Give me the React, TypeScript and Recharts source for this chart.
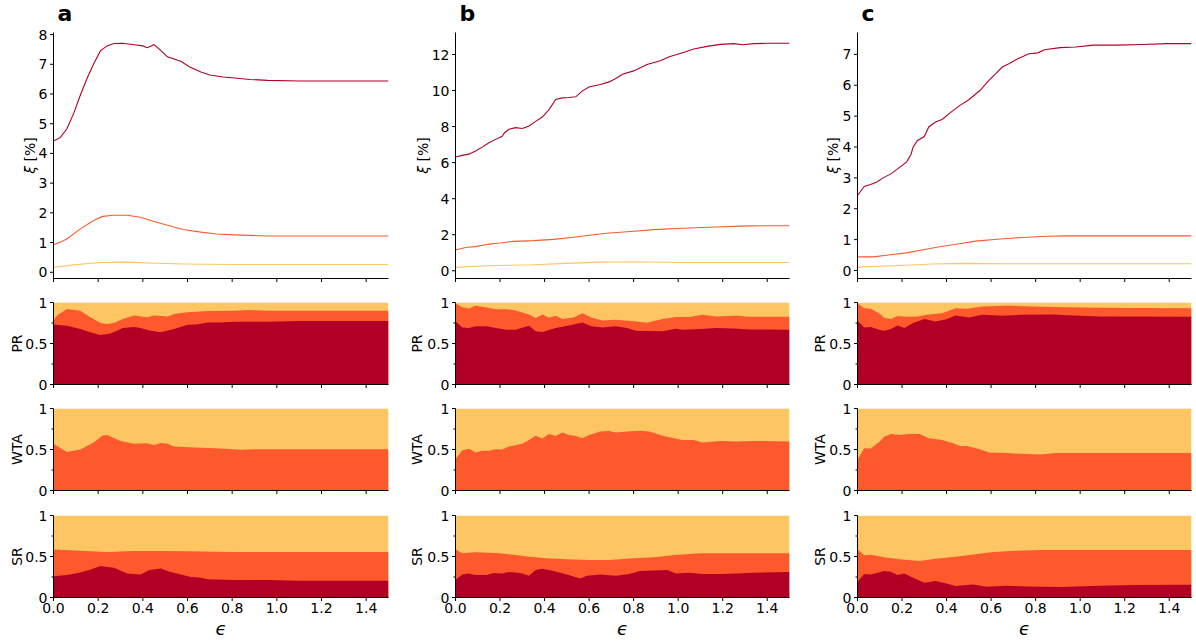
import React from "react";
import { ComposedChart, Line, Area, XAxis, YAxis } from "recharts";

// colours of the three groups (YlOrRd-like)
const DARK = "#b10026";
const MID = "#fc5a2d";
const LIGHT = "#fec662";
const FONT = "'DejaVu Sans', 'Liberation Sans', sans-serif";

const EPS_TICKS = [0, 0.2, 0.4, 0.6, 0.8, 1.0, 1.2, 1.4];
const SHARE_TICKS = [0, 0.25, 0.5, 0.75, 1];
const SHARE_MINOR = [0.25, 0.75];

// ---------- column a ----------
const XI_HI_A_X = [0, 0.03, 0.06, 0.09, 0.12, 0.15, 0.18, 0.21, 0.24, 0.27, 0.31, 0.36, 0.4, 0.42, 0.45, 0.48, 0.51, 0.57, 0.61, 0.66, 0.7, 0.76, 0.81, 0.88, 0.96, 1.1, 1.25, 1.5];
const XI_HI_A = [4.42, 4.53, 4.83, 5.34, 5.96, 6.52, 7.02, 7.45, 7.62, 7.7, 7.71, 7.66, 7.62, 7.56, 7.66, 7.47, 7.25, 7.1, 6.91, 6.74, 6.64, 6.57, 6.54, 6.49, 6.46, 6.44, 6.44, 6.44];
const XI_MID_A_X = [0, 0.03, 0.06, 0.12, 0.18, 0.22, 0.27, 0.33, 0.39, 0.45, 0.51, 0.58, 0.66, 0.73, 0.81, 0.96, 1.5];
const XI_MID_A = [0.93, 1.01, 1.12, 1.46, 1.74, 1.88, 1.92, 1.92, 1.85, 1.71, 1.58, 1.44, 1.35, 1.29, 1.26, 1.22, 1.22];
const XI_LO_A_X = [0, 0.09, 0.21, 0.33, 0.43, 0.58, 0.81, 1.5];
const XI_LO_A = [0.17, 0.25, 0.33, 0.34, 0.31, 0.28, 0.26, 0.26];

const PR_DARK_A_X = [0, 0.06, 0.12, 0.16, 0.21, 0.25, 0.28, 0.31, 0.36, 0.39, 0.43, 0.48, 0.54, 0.6, 0.64, 0.69, 0.75, 0.81, 0.96, 1.1, 1.5];
const PR_DARK_A = [0.733, 0.717, 0.676, 0.64, 0.603, 0.62, 0.65, 0.69, 0.7, 0.69, 0.66, 0.636, 0.676, 0.729, 0.733, 0.757, 0.757, 0.765, 0.765, 0.773, 0.773];
const PR_MID_A_X = [0, 0.02, 0.06, 0.12, 0.16, 0.21, 0.24, 0.27, 0.31, 0.36, 0.42, 0.45, 0.51, 0.54, 0.6, 0.69, 0.81, 0.87, 0.96, 1.5];
const PR_MID_A = [0.79, 0.85, 0.92, 0.9, 0.83, 0.75, 0.737, 0.75, 0.8, 0.84, 0.82, 0.84, 0.83, 0.86, 0.88, 0.895, 0.9, 0.91, 0.9, 0.9];
const WTA_MID_A_X = [0, 0.06, 0.12, 0.18, 0.22, 0.24, 0.3, 0.36, 0.42, 0.45, 0.48, 0.51, 0.54, 0.63, 0.73, 0.84, 0.9, 1.5];
const WTA_MID_A = [0.57, 0.47, 0.5, 0.585, 0.67, 0.677, 0.605, 0.57, 0.577, 0.556, 0.58, 0.57, 0.536, 0.524, 0.516, 0.496, 0.504, 0.504];
const SR_DARK_A_X = [0, 0.06, 0.12, 0.16, 0.21, 0.27, 0.33, 0.39, 0.43, 0.48, 0.52, 0.58, 0.61, 0.66, 0.69, 0.81, 0.96, 1.1, 1.5];
const SR_DARK_A = [0.26, 0.273, 0.306, 0.335, 0.384, 0.363, 0.294, 0.282, 0.335, 0.355, 0.314, 0.273, 0.253, 0.24, 0.224, 0.212, 0.212, 0.204, 0.204];
const SR_MID_A_X = [0, 0.12, 0.24, 0.36, 0.48, 0.6, 0.81, 1.5];
const SR_MID_A = [0.584, 0.571, 0.555, 0.567, 0.567, 0.563, 0.555, 0.555];

// ---------- column b ----------
const XI_HI_B_X = [0, 0.03, 0.06, 0.09, 0.12, 0.15, 0.18, 0.21, 0.22, 0.24, 0.27, 0.3, 0.33, 0.36, 0.39, 0.42, 0.45, 0.48, 0.51, 0.54, 0.57, 0.6, 0.65, 0.69, 0.72, 0.75, 0.8, 0.83, 0.86, 0.92, 0.96, 1.02, 1.07, 1.13, 1.19, 1.25, 1.29, 1.34, 1.4, 1.5];
const XI_HI_B = [6.31, 6.4, 6.47, 6.64, 6.86, 7.1, 7.29, 7.46, 7.66, 7.85, 7.94, 7.89, 8.03, 8.29, 8.53, 8.94, 9.5, 9.59, 9.61, 9.65, 9.98, 10.2, 10.33, 10.48, 10.67, 10.9, 11.09, 11.26, 11.45, 11.65, 11.87, 12.1, 12.3, 12.45, 12.56, 12.6, 12.54, 12.6, 12.62, 12.62];
const XI_MID_B_X = [0, 0.05, 0.09, 0.15, 0.2, 0.26, 0.35, 0.44, 0.53, 0.6, 0.68, 0.8, 0.89, 1.02, 1.17, 1.32, 1.5];
const XI_MID_B = [1.15, 1.3, 1.34, 1.48, 1.54, 1.63, 1.67, 1.74, 1.86, 1.97, 2.08, 2.19, 2.28, 2.36, 2.43, 2.49, 2.5];
const XI_LO_B_X = [0, 0.14, 0.35, 0.5, 0.65, 0.8, 1.02, 1.5];
const XI_LO_B = [0.19, 0.28, 0.33, 0.41, 0.48, 0.5, 0.46, 0.46];

const PR_DARK_B_X = [0, 0.03, 0.06, 0.09, 0.14, 0.18, 0.23, 0.27, 0.33, 0.36, 0.39, 0.45, 0.51, 0.57, 0.61, 0.66, 0.72, 0.77, 0.81, 0.87, 0.93, 0.99, 1.02, 1.1, 1.17, 1.25, 1.32, 1.5];
const PR_DARK_B = [0.77, 0.696, 0.688, 0.709, 0.709, 0.688, 0.668, 0.668, 0.717, 0.648, 0.64, 0.688, 0.72, 0.757, 0.709, 0.696, 0.709, 0.688, 0.656, 0.652, 0.648, 0.68, 0.668, 0.676, 0.688, 0.684, 0.672, 0.668];
const PR_MID_B_X = [0, 0.03, 0.06, 0.09, 0.14, 0.18, 0.23, 0.27, 0.33, 0.36, 0.39, 0.42, 0.45, 0.48, 0.53, 0.57, 0.61, 0.66, 0.72, 0.8, 0.86, 0.93, 0.99, 1.05, 1.11, 1.17, 1.26, 1.32, 1.5];
const PR_MID_B = [0.99, 0.943, 0.927, 0.96, 0.94, 0.919, 0.919, 0.903, 0.854, 0.81, 0.854, 0.814, 0.838, 0.8, 0.818, 0.87, 0.818, 0.781, 0.79, 0.77, 0.753, 0.798, 0.822, 0.822, 0.85, 0.83, 0.838, 0.826, 0.826];
const WTA_MID_B_X = [0, 0.03, 0.06, 0.09, 0.12, 0.15, 0.18, 0.21, 0.24, 0.3, 0.33, 0.36, 0.39, 0.42, 0.45, 0.48, 0.51, 0.54, 0.57, 0.6, 0.65, 0.69, 0.72, 0.77, 0.83, 0.87, 0.93, 0.98, 1.02, 1.07, 1.11, 1.19, 1.26, 1.34, 1.5];
const WTA_MID_B = [0.383, 0.488, 0.508, 0.464, 0.484, 0.484, 0.504, 0.5, 0.536, 0.569, 0.617, 0.669, 0.633, 0.69, 0.665, 0.706, 0.677, 0.665, 0.637, 0.677, 0.718, 0.726, 0.706, 0.718, 0.73, 0.718, 0.669, 0.637, 0.617, 0.617, 0.585, 0.605, 0.597, 0.605, 0.597];
const SR_DARK_B_X = [0, 0.03, 0.06, 0.09, 0.14, 0.17, 0.21, 0.24, 0.27, 0.3, 0.33, 0.36, 0.39, 0.44, 0.5, 0.56, 0.59, 0.65, 0.72, 0.78, 0.83, 0.89, 0.95, 0.99, 1.05, 1.11, 1.19, 1.26, 1.34, 1.5];
const SR_DARK_B = [0.212, 0.282, 0.294, 0.273, 0.273, 0.298, 0.294, 0.31, 0.306, 0.294, 0.265, 0.335, 0.351, 0.322, 0.282, 0.233, 0.265, 0.282, 0.265, 0.286, 0.322, 0.33, 0.335, 0.294, 0.302, 0.286, 0.286, 0.294, 0.302, 0.31];
const SR_MID_B_X = [0, 0.03, 0.09, 0.2, 0.27, 0.33, 0.41, 0.5, 0.6, 0.69, 0.8, 0.89, 0.99, 1.1, 1.25, 1.5];
const SR_MID_B = [0.588, 0.539, 0.551, 0.539, 0.518, 0.498, 0.478, 0.465, 0.457, 0.457, 0.478, 0.49, 0.518, 0.539, 0.539, 0.539];

// ---------- column c ----------
const XI_HI_C_X = [0, 0.03, 0.055, 0.085, 0.115, 0.15, 0.19, 0.22, 0.24, 0.25, 0.27, 0.3, 0.32, 0.35, 0.38, 0.42, 0.46, 0.5, 0.55, 0.59, 0.62, 0.65, 0.68, 0.72, 0.77, 0.81, 0.84, 0.91, 0.98, 1.06, 1.16, 1.28, 1.39, 1.5];
const XI_HI_C = [2.43, 2.72, 2.78, 2.86, 3.0, 3.13, 3.35, 3.51, 3.76, 4.0, 4.21, 4.34, 4.65, 4.81, 4.89, 5.13, 5.35, 5.53, 5.83, 6.16, 6.37, 6.59, 6.7, 6.86, 7.02, 7.05, 7.15, 7.22, 7.24, 7.3, 7.3, 7.32, 7.35, 7.35];
const XI_MID_C_X = [0, 0.07, 0.15, 0.22, 0.3, 0.37, 0.45, 0.53, 0.64, 0.74, 0.85, 0.94, 1.5];
const XI_MID_C = [0.44, 0.44, 0.51, 0.57, 0.68, 0.77, 0.86, 0.95, 1.02, 1.07, 1.11, 1.12, 1.12];
const XI_LO_C_X = [0, 0.19, 0.34, 0.49, 0.64, 1.5];
const XI_LO_C = [0.11, 0.16, 0.21, 0.23, 0.22, 0.22];

const PR_DARK_C_X = [0, 0.03, 0.06, 0.1, 0.12, 0.15, 0.18, 0.21, 0.25, 0.3, 0.35, 0.4, 0.44, 0.5, 0.56, 0.65, 0.73, 0.88, 0.94, 1.09, 1.5];
const PR_DARK_C = [0.78, 0.696, 0.7, 0.664, 0.656, 0.676, 0.72, 0.688, 0.749, 0.8, 0.769, 0.797, 0.842, 0.818, 0.85, 0.838, 0.85, 0.854, 0.846, 0.83, 0.826];
const PR_MID_C_X = [0, 0.03, 0.06, 0.1, 0.12, 0.15, 0.18, 0.22, 0.27, 0.31, 0.38, 0.44, 0.49, 0.56, 0.67, 0.79, 0.94, 1.09, 1.5];
const PR_MID_C = [0.99, 0.93, 0.924, 0.862, 0.814, 0.8, 0.834, 0.826, 0.83, 0.85, 0.87, 0.93, 0.923, 0.951, 0.96, 0.951, 0.943, 0.935, 0.93];
const WTA_MID_C_X = [0, 0.03, 0.06, 0.1, 0.12, 0.15, 0.19, 0.23, 0.28, 0.32, 0.38, 0.43, 0.46, 0.49, 0.55, 0.59, 0.67, 0.73, 0.82, 0.89, 1.01, 1.5];
const WTA_MID_C = [0.375, 0.516, 0.512, 0.597, 0.657, 0.69, 0.677, 0.69, 0.69, 0.637, 0.617, 0.577, 0.544, 0.544, 0.504, 0.464, 0.456, 0.448, 0.44, 0.456, 0.456, 0.456];
const SR_DARK_C_X = [0, 0.03, 0.06, 0.12, 0.15, 0.18, 0.21, 0.25, 0.3, 0.35, 0.4, 0.44, 0.52, 0.58, 0.67, 0.76, 0.91, 1.09, 1.24, 1.5];
const SR_DARK_C = [0.192, 0.286, 0.282, 0.322, 0.314, 0.273, 0.294, 0.241, 0.18, 0.2, 0.171, 0.139, 0.159, 0.131, 0.143, 0.135, 0.127, 0.143, 0.151, 0.155];
const SR_MID_C_X = [0, 0.03, 0.06, 0.12, 0.19, 0.28, 0.35, 0.44, 0.53, 0.61, 0.71, 0.82, 1.5];
const SR_MID_C = [0.588, 0.514, 0.522, 0.49, 0.465, 0.445, 0.473, 0.498, 0.527, 0.555, 0.571, 0.58, 0.58];

// shares always add up to one
const FULL_X = [0, 1.5];
const FULL = [1, 1];

type Pts = [number[], number[]];
type Row = Record<string, number | null>;

const pts = (xs: number[], ys: number[]) => xs.map((x, i) => ({ x, y: ys[i] }));

// one table per stack panel, keyed on the union of the x samples
function merge(series: Record<string, Pts>): Row[] {
  const xs = Array.from(new Set(Object.values(series).flatMap(([x]) => x))).sort((a, b) => a - b);
  return xs.map((x) => {
    const row: Row = { x };
    for (const [k, [sx, sy]] of Object.entries(series)) {
      const i = sx.indexOf(x);
      row[k] = i >= 0 ? sy[i] : null;
    }
    return row;
  });
}

interface Col { left: number; w: number; }
interface Rw { top: number; h: number; }

const COLS: Col[] = [
  { left: 53.5, w: 335 },
  { left: 455.5, w: 334 },
  { left: 857.5, w: 334 },
];
const ROW_XI: Rw = { top: 32.5, h: 246 };
const ROW_PR: Rw = { top: 302.5, h: 82 };
const ROW_WTA: Rw = { top: 408.5, h: 82 };
const ROW_SR: Rw = { top: 515.5, h: 82 };

const YW = 50;

function Panel({
  col, row, yDomain, yTicks, minor = [], showX = false, data, children,
}: {
  col: Col; row: Rw; yDomain: [number, number]; yTicks: number[]; minor?: number[];
  showX?: boolean; data?: Row[]; children: React.ReactNode;
}) {
  const axisX = YW + 0.5;
  const bottom = 10.5 + row.h;
  const yTick = (p: any) => {
    const v = p.payload.value;
    const isMinor = minor.includes(v);
    return (
      <g>
        <line x1={axisX - (isMinor ? 2 : 3.5)} x2={axisX} y1={p.y} y2={p.y} stroke="#000" strokeWidth={1} />
        {!isMinor && (
          <text x={axisX - 6} y={p.y} dy="0.36em" textAnchor="end" fontSize={14} fill="#000" fontFamily={FONT}>
            {String(v)}
          </text>
        )}
      </g>
    );
  };
  const xTick = (p: any) => (
    <g>
      <line x1={p.x} x2={p.x} y1={bottom} y2={bottom + 3.5} stroke="#000" strokeWidth={1} />
      {showX && (
        <text x={p.x} y={bottom + 15} textAnchor="middle" fontSize={14} fill="#000" fontFamily={FONT}>
          {Number(p.payload.value).toFixed(1)}
        </text>
      )}
    </g>
  );
  return (
    <div style={{ position: "absolute", left: col.left - axisX, top: row.top - 10.5 }}>
      <ComposedChart
        width={col.w + 60}
        height={row.h + 51}
        data={data}
        margin={{ top: 10.5, right: 9.5, bottom: 0.5, left: 0.5 }}
      >
        {children}
        <XAxis
          dataKey="x"
          type="number"
          domain={[0, 1.5]}
          allowDataOverflow
          ticks={EPS_TICKS}
          interval={0}
          height={40}
          tickLine={false}
          tick={xTick}
          axisLine={{ stroke: "#000", strokeWidth: 1 }}
        />
        <YAxis
          type="number"
          domain={yDomain}
          allowDataOverflow
          ticks={yTicks}
          interval={0}
          width={YW}
          tickLine={false}
          tick={yTick}
          axisLine={{ stroke: "#000", strokeWidth: 1 }}
        />
        <XAxis
          xAxisId="top"
          orientation="top"
          type="number"
          domain={[0, 1.5]}
          height={0}
          tick={false}
          tickLine={false}
          axisLine={{ stroke: "#000", strokeWidth: 1 }}
        />
        <YAxis
          yAxisId="right"
          orientation="right"
          type="number"
          domain={[0, 1]}
          width={0}
          tick={false}
          tickLine={false}
          axisLine={{ stroke: "#000", strokeWidth: 1 }}
        />
      </ComposedChart>
    </div>
  );
}

function XiPanel({ col, yDomain, yTicks, hi, mid, lo }: {
  col: Col; yDomain: [number, number]; yTicks: number[]; hi: Pts; mid: Pts; lo: Pts;
}) {
  const line = (p: Pts, color: string) => (
    <Line
      data={pts(p[0], p[1])}
      dataKey="y"
      type="linear"
      stroke={color}
      strokeWidth={1.1}
      dot={false}
      activeDot={false}
      isAnimationActive={false}
    />
  );
  return (
    <Panel col={col} row={ROW_XI} yDomain={yDomain} yTicks={yTicks}>
      {line(lo, LIGHT)}
      {line(mid, MID)}
      {line(hi, DARK)}
    </Panel>
  );
}

function SharePanel({ col, row, dark, mid, showX }: {
  col: Col; row: Rw; dark?: Pts; mid: Pts; showX?: boolean;
}) {
  const series: Record<string, Pts> = { full: [FULL_X, FULL], mid };
  if (dark) series.dark = dark;
  const data = merge(series);
  const area = (key: string, color: string) => (
    <Area
      dataKey={key}
      type="linear"
      fill={color}
      fillOpacity={1}
      stroke="none"
      connectNulls
      dot={false}
      activeDot={false}
      isAnimationActive={false}
    />
  );
  return (
    <Panel col={col} row={row} yDomain={[0, 1]} yTicks={SHARE_TICKS} minor={SHARE_MINOR} showX={showX} data={data}>
      {area("full", LIGHT)}
      {area("mid", MID)}
      {dark && area("dark", DARK)}
    </Panel>
  );
}

const PANEL_LETTERS = ["a", "b", "c"];
const XI_LABEL_X = [30, 423, 833];
const SHARE_LABEL_X = [17, 417, 820];

export default function App() {
  const rotated = (x: number, y: number, content: React.ReactNode, key: string) => (
    <text
      key={key}
      x={x}
      y={y}
      transform={`rotate(-90, ${x}, ${y})`}
      textAnchor="middle"
      dominantBaseline="central"
      fontSize={14}
      fontFamily={FONT}
      fill="#000"
    >
      {content}
    </text>
  );
  return (
    <div style={{ position: "absolute", left: 0, top: 0, width: 1196, height: 644, background: "#fff" }}>
      <XiPanel col={COLS[0]} yDomain={[-0.21, 8.07]} yTicks={[0, 1, 2, 3, 4, 5, 6, 7, 8]}
        hi={[XI_HI_A_X, XI_HI_A]} mid={[XI_MID_A_X, XI_MID_A]} lo={[XI_LO_A_X, XI_LO_A]} />
      <XiPanel col={COLS[1]} yDomain={[-0.43, 13.22]} yTicks={[0, 2, 4, 6, 8, 10, 12]}
        hi={[XI_HI_B_X, XI_HI_B]} mid={[XI_MID_B_X, XI_MID_B]} lo={[XI_LO_B_X, XI_LO_B]} />
      <XiPanel col={COLS[2]} yDomain={[-0.26, 7.71]} yTicks={[0, 1, 2, 3, 4, 5, 6, 7]}
        hi={[XI_HI_C_X, XI_HI_C]} mid={[XI_MID_C_X, XI_MID_C]} lo={[XI_LO_C_X, XI_LO_C]} />

      <SharePanel col={COLS[0]} row={ROW_PR} dark={[PR_DARK_A_X, PR_DARK_A]} mid={[PR_MID_A_X, PR_MID_A]} />
      <SharePanel col={COLS[1]} row={ROW_PR} dark={[PR_DARK_B_X, PR_DARK_B]} mid={[PR_MID_B_X, PR_MID_B]} />
      <SharePanel col={COLS[2]} row={ROW_PR} dark={[PR_DARK_C_X, PR_DARK_C]} mid={[PR_MID_C_X, PR_MID_C]} />

      <SharePanel col={COLS[0]} row={ROW_WTA} mid={[WTA_MID_A_X, WTA_MID_A]} />
      <SharePanel col={COLS[1]} row={ROW_WTA} mid={[WTA_MID_B_X, WTA_MID_B]} />
      <SharePanel col={COLS[2]} row={ROW_WTA} mid={[WTA_MID_C_X, WTA_MID_C]} />

      <SharePanel col={COLS[0]} row={ROW_SR} dark={[SR_DARK_A_X, SR_DARK_A]} mid={[SR_MID_A_X, SR_MID_A]} showX />
      <SharePanel col={COLS[1]} row={ROW_SR} dark={[SR_DARK_B_X, SR_DARK_B]} mid={[SR_MID_B_X, SR_MID_B]} showX />
      <SharePanel col={COLS[2]} row={ROW_SR} dark={[SR_DARK_C_X, SR_DARK_C]} mid={[SR_MID_C_X, SR_MID_C]} showX />

      <svg width={1196} height={644} style={{ position: "absolute", left: 0, top: 0, pointerEvents: "none" }}>
        {COLS.map((c, i) => (
          <text key={"l" + i} x={c.left + 4} y={21} fontSize={22} fontWeight="bold" fontFamily={FONT} fill="#000">
            {PANEL_LETTERS[i]}
          </text>
        ))}
        {COLS.map((c, i) => (
          <text key={"e" + i} x={c.left + c.w / 2} y={635} textAnchor="middle" fontSize={18} fontStyle="italic"
            fontFamily={FONT} fill="#000">
            ϵ
          </text>
        ))}
        {XI_LABEL_X.map((x, i) =>
          rotated(x, ROW_XI.top + ROW_XI.h / 2, <><tspan fontStyle="italic">ξ</tspan> [%]</>, "xi" + i))}
        {SHARE_LABEL_X.map((x, i) => rotated(x, ROW_PR.top + ROW_PR.h / 2, "PR", "pr" + i))}
        {SHARE_LABEL_X.map((x, i) => rotated(x, ROW_WTA.top + ROW_WTA.h / 2, "WTA", "wta" + i))}
        {SHARE_LABEL_X.map((x, i) => rotated(x, ROW_SR.top + ROW_SR.h / 2, "SR", "sr" + i))}
      </svg>
    </div>
  );
}
